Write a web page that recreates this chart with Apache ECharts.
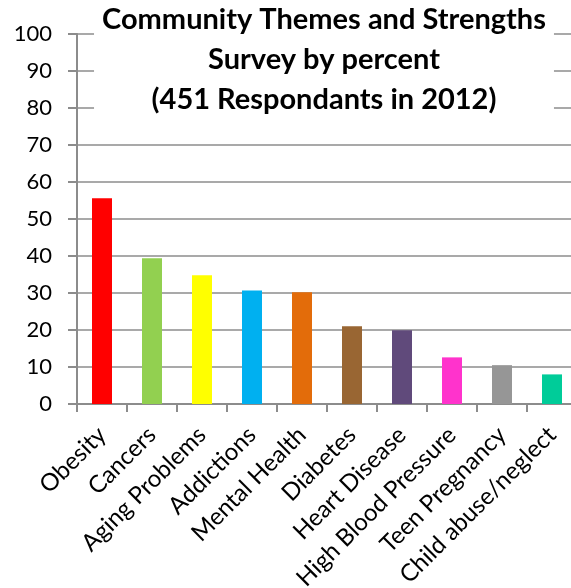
<!DOCTYPE html>
<html>
<head>
<meta charset="utf-8">
<script src="https://cdn.jsdelivr.net/npm/echarts@6/dist/echarts.min.js"></script>
<style>
    html, body { margin: 0; padding: 0; background: #fff; }
    #main { width: 571px; height: 588px; }
</style>
</head>
<body>
<div id="main"></div>
<script>
// 数据
const categories = ['Obesity', 'Cancers', 'Aging Problems', 'Addictions', 'Mental Health',
    'Diabetes', 'Heart Disease', 'High Blood Pressure', 'Teen Pregnancy', 'Child abuse/neglect'];
const percents = [55.6, 39.4, 34.8, 30.7, 30.2, 21.0, 19.9, 12.6, 10.5, 8.0];
const barColors = ['#ff0000', '#92d050', '#ffff00', '#00b0f0', '#e36c0a',
    '#996633', '#604a7b', '#ff33cc', '#969696', '#00cc99'];
const titleLines = ['Community Themes and Strengths', 'Survey by percent', '(451 Respondants in 2012)'];

const font = 'Lato, "Open Sans", sans-serif';
const lineColor = '#8c8c8c';

let option = {
    animation: false,
    backgroundColor: '#fff',
    // 标题（白底压在网格线上）
    title: {
        text: titleLines.join('\n'),
        left: 316,
        top: 0,
        textAlign: 'center',
        backgroundColor: '#fff',
        padding: [0, 8, 4, 8],
        textStyle: {
            fontFamily: font,
            fontWeight: 'bold',
            fontSize: 29,
            lineHeight: 40,
            color: '#000'
        }
    },
    grid: {
        left: 77,
        top: 34,
        width: 500,
        height: 370,
        containLabel: false,
        outerBoundsMode: 'none'
    },
    xAxis: {
        type: 'category',
        data: categories,
        axisLine: { lineStyle: { color: lineColor, width: 2 } },
        axisTick: { show: true, interval: 0, length: 8, lineStyle: { color: lineColor, width: 2 } },
        axisLabel: {
            rotate: 45,
            margin: 27,
            interval: 0,
            fontFamily: font,
            fontSize: 24,
            color: '#000'
        }
    },
    yAxis: {
        type: 'value',
        min: 0,
        max: 100,
        interval: 10,
        axisLine: { show: true, lineStyle: { color: lineColor, width: 2 } },
        axisTick: { show: true, inside: false, length: 9, lineStyle: { color: lineColor, width: 2 } },
        splitLine: { show: true, lineStyle: { color: lineColor, width: 1.5 } },
        axisLabel: {
            margin: 25,
            fontFamily: font,
            fontSize: 22,
            color: '#000'
        }
    },
    series: [{
        type: 'bar',
        barWidth: 20,
        data: percents.map((v, i) => ({ value: v, itemStyle: { color: barColors[i] } }))
    }]
};

// 初始化
const chart = echarts.init(document.getElementById('main'));
chart.setOption(option);
</script>
</body>
</html>
